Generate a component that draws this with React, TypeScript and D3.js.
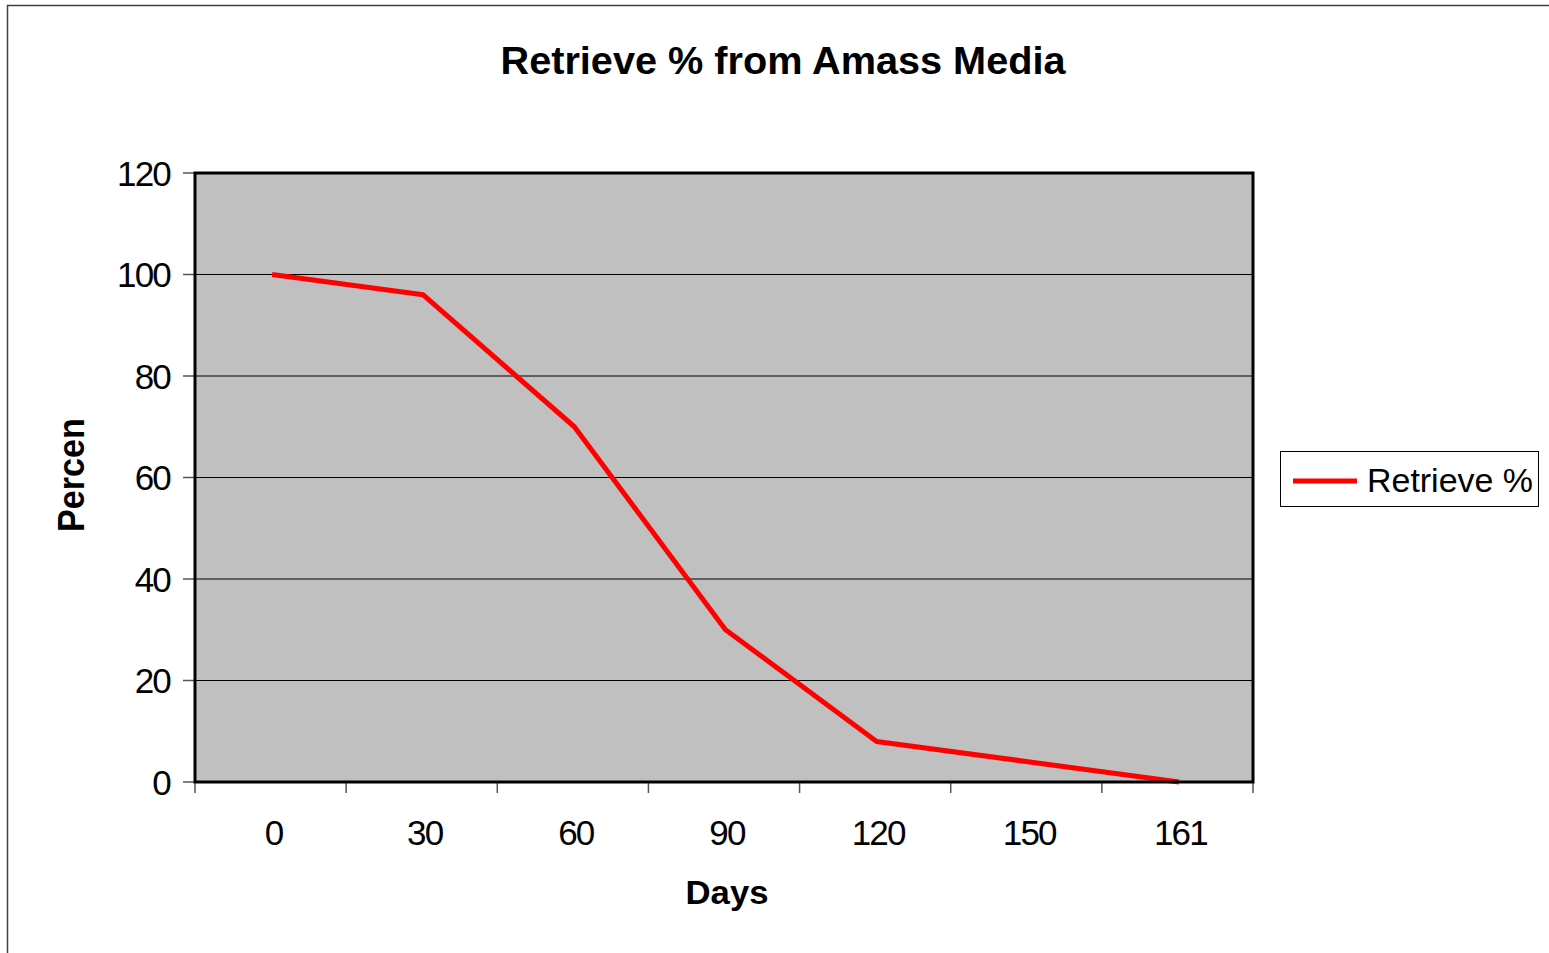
import React from "react";
import * as d3 from "d3";

const categories = ["0", "30", "60", "90", "120", "150", "161"];
const retrieveValues = [100, 96, 70, 30, 8, 4, 0];
const yTicks = [0, 20, 40, 60, 80, 100, 120];
const seriesName = "Retrieve %";
const titleText = "Retrieve % from Amass Media";
const xTitle = "Days";
const yTitle = "Percen";

export default function App() {
  const W = 1549, H = 953;
  const left = 195, right = 1253, top = 173, bottom = 782;
  const x = d3.scaleBand<string>().domain(categories).range([left, right]).padding(0);
  const y = d3.scaleLinear().domain([0, 120]).range([bottom, top]);
  const cx = (c: string) => (x(c) as number) + x.bandwidth() / 2 + 1.5;
  const line = d3
    .line<number>()
    .x((_, i) => cx(categories[i]))
    .y((d) => y(d));
  const font = "'Liberation Sans', Arial, Helvetica, sans-serif";
  const boundaries = categories.map((c) => x(c) as number).concat([right]);

  return (
    <svg width={W} height={H} style={{ position: "absolute", left: 0, top: 0, background: "#fff" }} fontFamily={font}>
      <rect x={7.5} y={5.5} width={1560} height={980} fill="#fff" stroke="#404040" strokeWidth={1.5} />
      <text x={783} y={74} textAnchor="middle" fontWeight="bold" fontSize={38} textLength={565} lengthAdjust="spacingAndGlyphs">
        {titleText}
      </text>
      <rect x={left} y={top} width={right - left} height={bottom - top} fill="#c0c0c0" />
      {yTicks.filter((t) => t > 0 && t < 120).map((t) => (
        <line key={"g" + t} x1={left} x2={right} y1={y(t)} y2={y(t)} stroke="#000" strokeWidth={1} />
      ))}
      {yTicks.map((t) => (
        <g key={"yt" + t}>
          <line x1={183} x2={left} y1={y(t)} y2={y(t)} stroke="#555" strokeWidth={1.5} />
          <text x={170} y={y(t) + 12.5} textAnchor="end" fontSize={35} letterSpacing={-1.8}>
            {t}
          </text>
        </g>
      ))}
      {boundaries.map((b, i) => (
        <line key={"xt" + i} x1={b} x2={b} y1={bottom} y2={bottom + 11} stroke="#555" strokeWidth={1.5} />
      ))}
      {categories.map((c) => (
        <text key={"xl" + c} x={cx(c) + 1.5} y={845} textAnchor="middle" fontSize={35} letterSpacing={-1.8}>
          {c}
        </text>
      ))}
      <path d={line(retrieveValues) || ""} fill="none" stroke="#ff0000" strokeWidth={5} strokeLinejoin="round" />
      <rect x={left} y={top} width={right - left} height={bottom - top} fill="none" stroke="#000" strokeWidth={3} />
      <text x={727} y={904} textAnchor="middle" fontWeight="bold" fontSize={33} textLength={83} lengthAdjust="spacingAndGlyphs">
        {xTitle}
      </text>
      <text transform="translate(84,475) rotate(-90)" textAnchor="middle" fontWeight="bold" fontSize={36} textLength={114} lengthAdjust="spacingAndGlyphs">
        {yTitle}
      </text>
      <rect x={1280.5} y={451.5} width={258} height={55} fill="#fff" stroke="#000" strokeWidth={1} />
      <line x1={1293} x2={1357} y1={481} y2={481} stroke="#ff0000" strokeWidth={5} />
      <text x={1367} y={492} fontSize={34} textLength={166} lengthAdjust="spacingAndGlyphs">
        {seriesName}
      </text>
    </svg>
  );
}
